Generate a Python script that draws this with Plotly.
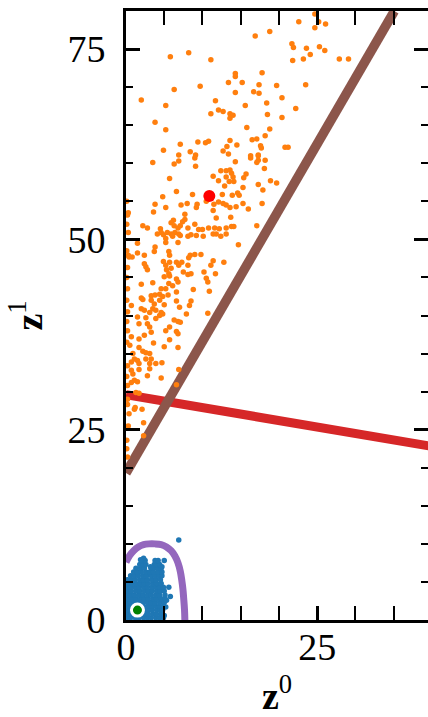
import plotly.graph_objects as go

# ---------------- data ----------------
orange_points = [
    # upper-left region
    (5.8,74.0),(8.2,74.5),(11.1,73.6),(13.4,70.6),(9.7,70.1),(6.3,69.7),(2.0,68.3),(5.2,67.6),
    (11.7,68.2),(12.1,67.0),(12.7,66.8),(11.1,66.5),(13.6,66.5),(13.6,65.9),(3.8,65.4),(5.2,64.4),
    (7.1,62.5),(9.4,62.8),(10.4,62.7),(10.8,62.9),(13.6,63.0),(13.2,62.2),(12.7,61.6),(4.9,61.7),
    (8.4,61.5),(6.9,61.1),(9.1,61.1),(13.4,61.2),
    # upper-right region
    (24.7,79.6),(25.2,78.6),(22.6,78.6),(26.1,78.3),(24.7,77.8),(18.8,77.3),(16.9,76.7),(21.7,75.7),
    (21.9,75.2),(23.6,75.1),(25.3,75.3),(26.0,74.8),(24.1,74.3),(23.2,73.7),(21.8,73.5),(17.8,71.9),
    (14.3,71.8),(14.3,71.4),(15.2,70.6),(17.4,70.3),(19.7,70.2),(23.5,70.3),(16.7,69.4),(17.4,69.2),
    (14.3,69.3),(20.4,68.6),(18.4,67.9),(15.6,67.6),(22.2,67.2),(14.0,66.3),(18.5,66.4),(20.4,66.0),
    (15.8,64.7),(18.8,64.5),(18.2,63.6),(14.5,62.4),(16.5,63.1),(17.1,63.2),(17.6,62.3),(17.7,62.0),
    (20.8,62.1),(21.2,62.1),(17.3,61.1),(16.3,61.0),(27.9,73.7),(29.1,73.7),
    # middle-left region
    (3.5,60.1),(6.9,60.3),(6.3,59.9),(9.0,60.7),(9.1,59.6),(5.7,58.0),(11.4,58.3),(12.4,59.0),
    (13.1,59.0),(13.1,58.2),(12.1,57.7),(12.9,57.0),(13.5,57.6),(6.6,56.3),(4.8,55.6),(8.7,55.9),
    (12.6,55.9),(3.8,54.6),(3.6,53.6),(5.2,54.2),(7.2,54.5),(8.0,54.7),(9.3,54.6),(9.2,54.2),
    (10.5,55.0),(11.5,54.6),(12.1,54.9),(12.7,54.7),(11.4,53.8),(13.1,54.5),(7.7,53.3),(7.7,52.6),
    (7.4,52.3),(6.2,52.5),(11.8,52.8),(2.2,51.8),(2.8,51.5),(4.5,51.4),(4.6,50.9),(5.9,52.2),
    (6.3,51.8),(6.8,51.5),(7.1,51.8),(8.1,51.5),(9.0,52.0),(9.5,51.3),(10.0,51.3),(10.8,51.5),
    (11.6,51.5),(12.2,51.4),(13.1,51.5),(4.1,50.7),(4.9,50.6),(5.4,50.9),(5.9,50.7),(6.4,50.9),
    (6.9,50.7),(5.2,50.1),(6.1,50.4),(7.1,50.5),(8.1,50.4),(8.5,50.6),(9.2,50.5),(10.1,50.4),
    (11.4,50.7),(11.8,50.7),(12.4,50.4),(13.1,50.7),(1.5,49.5),(5.2,49.6),(6.8,49.6),(3.8,49.0),
    (3.7,48.4),(0.8,47.7),(1.5,48.2),(2.4,47.9),(5.6,48.4),(5.7,47.9),(8.4,47.9),(9.0,48.0),
    (9.8,48.0),(8.2,47.6),(2.4,46.8),(2.6,46.4),(2.8,46.0),(4.9,47.1),(5.2,46.6),(5.7,47.0),
    (5.3,46.0),(5.6,45.5),(5.9,46.2),(6.6,47.0),(6.9,46.6),(7.3,47.0),(8.1,46.6),(7.5,45.7),
    (8.1,45.4),(8.5,45.5),(10.2,45.7),(11.4,47.2),(11.1,46.6),(11.7,45.5),(12.8,47.0),(5.0,45.1),
    (5.7,45.2),(6.6,44.8),(6.8,44.4),(10.5,44.9),(10.7,44.4),(2.0,44.1),(3.5,44.3),(5.6,44.2),
    (6.1,43.9),(8.8,43.4),(10.9,43.2),(4.6,43.5),(5.2,43.5),(2.0,42.3),(3.3,42.6),(3.8,42.7),
    (4.4,42.8),(4.8,42.5),(5.5,42.7),(6.6,43.1),(0.2,53.2),(0.3,47.9),(0.4,47.7),
    # middle-right region
    (14.3,60.2),(16.3,60.7),(17.3,61.0),(17.3,60.4),(17.1,60.1),(18.2,60.4),(18.1,59.3),(13.6,59.1),
    (13.8,58.7),(14.0,58.2),(14.1,57.6),(15.7,58.6),(15.4,58.1),(18.9,57.7),(19.7,57.4),(17.3,57.2),
    (15.3,56.8),(17.9,56.5),(13.9,55.8),(14.6,56.1),(14.8,55.8),(15.3,54.7),(17.8,54.7),(14.4,54.3),
    (13.6,54.2),(16.0,54.0),(13.7,52.9),(13.8,51.7),(14.1,51.7),(17.1,51.8),(14.7,49.3),
    # lower-left region
    (2.2,42.1),(3.3,42.0),(3.7,41.5),(4.4,42.0),(5.0,41.4),(6.6,41.9),(7.0,41.1),(8.5,41.9),
    (8.3,41.3),(0.7,41.3),(2.0,40.9),(2.4,40.7),(3.5,40.9),(3.9,40.7),(3.1,40.4),(4.6,40.4),
    (4.4,40.0),(4.8,40.2),(7.9,40.2),(10.7,40.3),(1.5,39.8),(2.6,39.7),(3.9,39.6),(6.3,39.4),
    (6.8,39.2),(7.1,39.1),(1.7,38.9),(2.8,38.9),(3.1,38.5),(5.7,38.5),(5.2,38.0),(6.6,37.9),
    (6.8,37.6),(3.3,37.8),(2.4,37.4),(0.7,37.2),(1.7,36.9),(5.7,36.8),(3.6,36.4),(0.5,36.1),
    (1.7,35.8),(5.0,35.9),(6.8,35.8),(2.2,35.3),(2.6,35.1),(3.1,35.0),(0.9,35.0),(1.1,34.3),
    (1.5,34.1),(0.7,33.9),(2.6,34.3),(3.3,34.3),(3.9,33.7),(4.7,33.8),(1.7,33.7),(3.1,33.7),
    (3.1,33.0),(1.7,32.9),(0.7,32.8),(0.9,32.3),(6.9,32.9),(2.8,32.1),(4.6,31.8),(1.1,31.5),
    (0.7,31.2),(1.5,31.3),(6.6,30.9),(1.3,29.9),(1.7,29.8),(1.1,27.7),(2.1,27.7),(2.3,25.9),
    (2.3,24.2),(0.4,27.1),(0.2,29.0),(0.3,25.5),(0.2,30.8),(1.2,27.9),(0.1,23.6),(0.2,21.4),
    # points hugging the left axis
    (0.1,22.5),(0.2,28.3),(0.1,32.0),(0.2,33.4),(0.1,36.5),(0.2,38.0),(0.1,39.2),(0.2,40.5),
    (0.1,42.0),(0.2,43.5),(0.1,45.0),(0.2,46.3),(0.1,48.5),(0.3,50.9),(0.1,52.0),(0.3,53.5),
    (0.1,55.0),
]
orange_x = [p[0] for p in orange_points]
orange_y = [p[1] for p in orange_points]

# dense blue cluster near the origin, row by row
blue_rows = {
    0.3: [0.1,0.6,1.2,1.7,2.3,2.8,3.3,3.9,4.4,4.9],
    0.8: [0.2,0.7,1.3,1.9,2.4,2.9,3.5,4.0,4.6],
    1.3: [0.1,0.6,2.4,2.9,3.4,4.0,4.5,4.8],
    1.8: [0.2,0.7,1.2,1.8,2.3,2.9,3.4,3.9,4.4,4.9],
    2.3: [0.1,0.6,1.1,1.7,2.2,2.8,3.3,3.8,4.4,5.0],
    2.8: [0.2,0.8,1.3,1.9,2.4,2.9,3.5,4.0,4.6,5.1],
    3.3: [0.1,0.6,1.1,1.7,2.2,2.8,3.3,3.9,4.4,5.1],
    3.8: [0.2,0.7,1.3,1.8,2.4,2.9,3.4,4.0,4.5,5.0],
    4.3: [0.1,0.6,1.2,1.7,2.3,2.8,3.4,3.9,4.4,4.9],
    4.8: [0.2,0.8,1.3,1.9,2.4,2.9,3.5,4.0,4.6],
    5.3: [0.2,0.7,1.2,1.8,2.3,2.8,3.4,3.9,4.5],
    5.8: [0.6,1.1,1.6,2.2,2.7,3.3,3.8,4.3,4.7],
    6.3: [1.0,1.5,2.0,2.6,3.1,3.6,4.2,4.7],
    6.8: [1.3,1.9,2.4,3.3,3.6,4.1,4.6],
    7.3: [1.8,2.3,2.6,3.7,4.0,4.4],
    7.8: [2.1,2.5,3.8,4.2],
}
blue_extra = [(5.0,7.8),(5.6,4.3),(5.8,3.1),(5.3,2.6),(6.9,10.5),(5.2,1.7),(5.0,0.6),(4.7,7.0),
              (2.3,8.1),(1.9,7.9),(3.2,7.0)]
blue_x = [x for y, xs in blue_rows.items() for x in xs] + [p[0] for p in blue_extra]
blue_y = [y for y, xs in blue_rows.items() for x in xs] + [p[1] for p in blue_extra]

purple_x = [0.0, 0.5, 1.0, 1.6, 2.3, 3.0, 3.8, 4.6, 5.3, 5.9, 6.4, 6.8, 7.1, 7.3, 7.45, 7.55, 7.65, 7.7]
purple_y = [7.6, 8.5, 9.1, 9.6, 9.9, 10.0, 10.0, 9.9, 9.6, 9.1, 8.4, 7.5, 6.4, 5.2, 4.0, 2.8, 1.4, 0.0]

brown_x = [0.0, 35.1]
brown_y = [19.3, 80.0]

redline_x = [0.0, 40.0]
redline_y = [29.6, 22.8]

red_point = (10.9, 55.7)
green_point = (1.5, 1.3)

x_ticks = [0, 25]
y_ticks = [0, 25, 50, 75]

# ---------------- figure ----------------
FONT = "Liberation Serif"
fig = go.Figure()
fig.add_trace(go.Scatter(x=redline_x, y=redline_y, mode="lines",
                         line=dict(color="#d62728", width=9)))
fig.add_trace(go.Scatter(x=brown_x, y=brown_y, mode="lines",
                         line=dict(color="#8c564b", width=9.5)))
fig.add_trace(go.Scatter(x=purple_x, y=purple_y, mode="lines",
                         line=dict(color="#9467bd", width=7, shape="spline")))
fig.add_trace(go.Scatter(x=blue_x, y=blue_y, mode="markers",
                         marker=dict(color="#1f77b4", size=5.5, line=dict(width=0))))
fig.add_trace(go.Scatter(x=orange_x, y=orange_y, mode="markers",
                         marker=dict(color="#ff7f0e", size=5.5, line=dict(width=0))))
fig.add_trace(go.Scatter(x=[red_point[0]], y=[red_point[1]], mode="markers",
                         marker=dict(color="#ff0000", size=12, line=dict(width=0))))
fig.add_trace(go.Scatter(x=[green_point[0]], y=[green_point[1]], mode="markers",
                         marker=dict(color="#008000", size=12, line=dict(width=3, color="white"))))
fig.add_trace(go.Scatter(x=[None], y=[None], yaxis="y2", showlegend=False))

axis_common = dict(
    showgrid=False, zeroline=False, ticks="inside", ticklen=14, tickwidth=2.5, automargin=False,
    tickcolor="black", tickfont=dict(family=FONT, size=38, color="black"),
    minor=dict(dtick=5, tick0=0, ticks="inside", ticklen=7, tickwidth=2, tickcolor="black", showgrid=False),
)

fig.update_layout(
    width=428, height=717,
    margin=dict(l=126, r=0, t=11, b=97),
    paper_bgcolor="white", plot_bgcolor="white",
    showlegend=False,
    xaxis=dict(range=[0, 39.5], tickvals=x_ticks, showline=True, linewidth=3, linecolor="black",
               mirror="allticks", ticklabelstandoff=-9,
               title=dict(text="<b>z</b><sup>0</sup>", font=dict(family=FONT, size=38, color="black"),
                          standoff=45),
               **axis_common),
    yaxis=dict(range=[0, 80], tickvals=y_ticks, showline=True, linewidth=3, linecolor="black",
               mirror=False, ticklabelstandoff=10,
               title=dict(text="<b>z</b><sup>1</sup>", font=dict(family=FONT, size=38, color="black"),
                          standoff=14),
               **axis_common),
    yaxis2=dict(range=[0, 80], tickvals=y_ticks, overlaying="y", side="right", showline=False,
                showticklabels=False, **axis_common),
)

fig.write_html("out.html")
